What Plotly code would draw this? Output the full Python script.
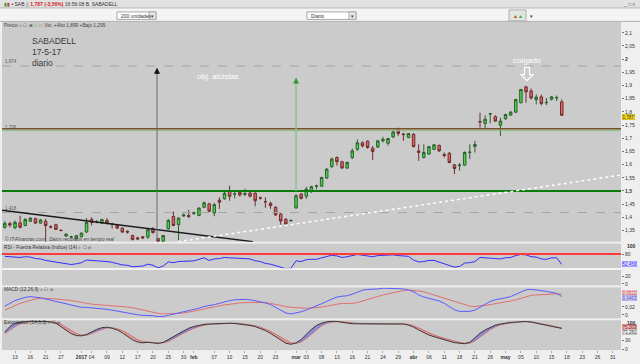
import plotly.graph_objects as go
import pandas as pd

W, H = 640, 364

# ---------------- data ----------------
holidays = ["2016-12-26", "2017-04-14", "2017-04-17", "2017-05-01"]
dates = [d.strftime("%Y-%m-%d") for d in pd.bdate_range("2016-12-09", "2017-05-31")
         if d.strftime("%Y-%m-%d") not in holidays]

opens = [1.362, 1.376, 1.361, 1.379, 1.369, 1.385, 1.395, 1.378, 1.385, 1.364,
         1.372, 1.350, 1.329, 1.325, 1.318, 1.326, 1.344, 1.392, 1.384, 1.378,
         1.388, 1.374, 1.369, 1.359, 1.347, 1.331, 1.322, 1.326, 1.325, 1.356,
         1.319, 1.309, 1.356, 1.403, 1.372, 1.405, 1.407, 1.415, 1.407, 1.438,
         1.451, 1.417, 1.465, 1.470, 1.501, 1.488, 1.495, 1.487, 1.492, 1.491,
         1.474, 1.459, 1.453, 1.438, 1.412, 1.392, 1.387, 1.436, 1.488, 1.480,
         1.497, 1.518, 1.518, 1.549, 1.593, 1.627, 1.611, 1.587, 1.627, 1.658,
         1.683, 1.689, 1.662, 1.667, 1.690, 1.681, 1.705, 1.730, 1.716, 1.703,
         1.715, 1.652, 1.627, 1.640, 1.658, 1.673, 1.638, 1.643, 1.599, 1.596,
         1.598, 1.646, 1.669, 1.763, 1.756, 1.792, 1.782, 1.749, 1.774, 1.788,
         1.799, 1.835, 1.895, 1.879, 1.847, 1.857, 1.835, 1.848, 1.853, 1.838]
highs = [1.385, 1.383, 1.388, 1.406, 1.397, 1.400, 1.399, 1.394, 1.394, 1.370,
         1.376, 1.355, 1.339, 1.330, 1.333, 1.342, 1.397, 1.400, 1.390, 1.394,
         1.397, 1.379, 1.372, 1.362, 1.350, 1.334, 1.326, 1.329, 1.357, 1.363,
         1.322, 1.333, 1.394, 1.422, 1.400, 1.414, 1.428, 1.421, 1.438, 1.460,
         1.455, 1.455, 1.476, 1.497, 1.520, 1.497, 1.499, 1.508, 1.497, 1.495,
         1.478, 1.476, 1.459, 1.442, 1.417, 1.397, 1.392, 1.488, 1.492, 1.516,
         1.520, 1.524, 1.554, 1.586, 1.627, 1.631, 1.614, 1.612, 1.661, 1.696,
         1.688, 1.692, 1.671, 1.694, 1.705, 1.701, 1.728, 1.740, 1.721, 1.720,
         1.719, 1.677, 1.677, 1.671, 1.678, 1.676, 1.646, 1.647, 1.602, 1.606,
         1.650, 1.677, 1.690, 1.797, 1.787, 1.794, 1.787, 1.778, 1.793, 1.803,
         1.850, 1.887, 1.899, 1.889, 1.866, 1.866, 1.853, 1.860, 1.862, 1.847]
lows = [1.357, 1.362, 1.355, 1.358, 1.366, 1.382, 1.374, 1.375, 1.302, 1.358,
        1.352, 1.346, 1.326, 1.322, 1.316, 1.324, 1.342, 1.369, 1.377, 1.374,
        1.372, 1.357, 1.356, 1.341, 1.338, 1.312, 1.314, 1.318, 1.318, 1.338,
        1.305, 1.306, 1.353, 1.366, 1.313, 1.402, 1.397, 1.409, 1.404, 1.435,
        1.420, 1.404, 1.432, 1.467, 1.463, 1.472, 1.478, 1.480, 1.476, 1.442,
        1.467, 1.436, 1.432, 1.405, 1.372, 1.371, 1.383, 1.432, 1.468, 1.470,
        1.493, 1.506, 1.516, 1.546, 1.587, 1.596, 1.584, 1.583, 1.621, 1.652,
        1.665, 1.660, 1.618, 1.663, 1.684, 1.672, 1.700, 1.709, 1.690, 1.700,
        1.665, 1.614, 1.623, 1.637, 1.655, 1.648, 1.627, 1.605, 1.564, 1.577,
        1.595, 1.621, 1.646, 1.740, 1.734, 1.757, 1.762, 1.709, 1.770, 1.785,
        1.795, 1.832, 1.835, 1.847, 1.828, 1.825, 1.826, 1.843, 1.841, 1.785]
closes = [1.377, 1.371, 1.381, 1.362, 1.392, 1.397, 1.378, 1.390, 1.369, 1.363,
          1.354, 1.350, 1.336, 1.326, 1.330, 1.340, 1.381, 1.380, 1.384, 1.392,
          1.378, 1.374, 1.359, 1.344, 1.344, 1.316, 1.318, 1.322, 1.353, 1.342,
          1.309, 1.331, 1.388, 1.369, 1.397, 1.409, 1.403, 1.417, 1.435, 1.455,
          1.423, 1.448, 1.457, 1.491, 1.480, 1.488, 1.485, 1.490, 1.480, 1.463,
          1.473, 1.459, 1.444, 1.409, 1.386, 1.375, 1.388, 1.482, 1.472, 1.507,
          1.516, 1.519, 1.551, 1.583, 1.621, 1.611, 1.587, 1.608, 1.652, 1.683,
          1.671, 1.665, 1.650, 1.690, 1.696, 1.699, 1.724, 1.718, 1.714, 1.718,
          1.668, 1.646, 1.646, 1.668, 1.675, 1.652, 1.635, 1.608, 1.585, 1.598,
          1.646, 1.647, 1.676, 1.762, 1.772, 1.793, 1.765, 1.765, 1.790, 1.799,
          1.847, 1.885, 1.876, 1.853, 1.856, 1.832, 1.836, 1.857, 1.854, 1.787]

rsi = [74, 73, 74, 71, 73, 72, 68, 67, 63, 61, 58, 56, 53, 52, 54, 57, 64, 63, 62, 63,
       60, 58, 54, 51, 50, 46, 47, 48, 53, 50, 43, 48, 59, 57, 60, 61, 61, 62, 66, 70,
       63, 67, 68, 71, 70, 70, 69, 68, 67, 62, 60, 55, 53, 49, 43, 41, 42, 62, 60, 65,
       66, 66, 70, 73, 77, 75, 71, 73, 76, 79, 77, 75, 73, 76, 77, 76, 78, 76, 75, 74,
       64, 59, 60, 63, 63, 58, 55, 50, 45, 47, 56, 57, 60, 71, 71, 69, 68, 67, 70, 71,
       76, 79, 78, 73, 72, 67, 66, 70, 70, 52.456]

macd = [0.022, 0.030, 0.036, 0.040, 0.044, 0.046, 0.045, 0.043, 0.040, 0.037,
        0.034, 0.031, 0.027, 0.024, 0.021, 0.019, 0.019, 0.018, 0.017, 0.016,
        0.014, 0.012, 0.0095, 0.007, 0.005, 0.002, 0.0005, -0.001, -0.001, -0.002,
        -0.004, -0.004, -0.001, 0.002, 0.004, 0.007, 0.010, 0.013, 0.017, 0.021,
        0.023, 0.026, 0.029, 0.033, 0.036, 0.038, 0.039, 0.039, 0.038, 0.036,
        0.033, 0.030, 0.026, 0.019, 0.012, 0.005, 0.0025, 0.005, 0.008, 0.0125,
        0.017, 0.022, 0.028, 0.034, 0.040, 0.045, 0.047, 0.048, 0.052, 0.058,
        0.062, 0.064, 0.064, 0.065, 0.067, 0.067, 0.067, 0.066, 0.065, 0.063,
        0.058, 0.050, 0.045, 0.042, 0.039, 0.035, 0.029, 0.022, 0.013, 0.009,
        0.0085, 0.009, 0.012, 0.020, 0.027, 0.034, 0.038, 0.040, 0.043, 0.046,
        0.052, 0.059, 0.063, 0.064, 0.063, 0.061, 0.059, 0.057, 0.054, 0.0463]
signal = [0.012, 0.018, 0.024, 0.029, 0.033, 0.037, 0.040, 0.042, 0.042, 0.041,
          0.040, 0.039, 0.038, 0.036, 0.034, 0.031, 0.029, 0.027, 0.026, 0.025,
          0.0245, 0.024, 0.0235, 0.022, 0.020, 0.018, 0.015, 0.012, 0.009, 0.006,
          0.004, 0.0025, 0.0025, 0.003, 0.004, 0.005, 0.007, 0.009, 0.012, 0.015,
          0.018, 0.021, 0.023, 0.025, 0.027, 0.029, 0.030, 0.031, 0.031, 0.031,
          0.031, 0.031, 0.029, 0.026, 0.023, 0.021, 0.019, 0.018, 0.017, 0.017,
          0.017, 0.018, 0.020, 0.022, 0.025, 0.027, 0.029, 0.029, 0.029, 0.031,
          0.035, 0.039, 0.042, 0.046, 0.050, 0.053, 0.056, 0.0585, 0.061, 0.0625,
          0.062, 0.060, 0.058, 0.054, 0.051, 0.047, 0.043, 0.039, 0.035, 0.030,
          0.026, 0.022, 0.021, 0.022, 0.024, 0.026, 0.028, 0.030, 0.033, 0.035,
          0.038, 0.042, 0.046, 0.049, 0.050, 0.051, 0.052, 0.053, 0.053, 0.0522]

stoch_k = [60, 80, 92, 96, 98, 99, 98, 97, 97, 97, 92, 80, 66, 55, 48, 47, 52, 62, 70, 76,
           78, 74, 68, 58, 45, 33, 25, 22, 24, 23, 20, 24, 34, 45, 56, 66, 74, 80, 85, 88,
           89, 90, 91, 92, 92, 91, 89, 87, 84, 80, 74, 66, 56, 44, 32, 21, 17, 22, 34, 52,
           70, 84, 92, 97, 99, 98, 95, 92, 90, 90, 90, 89, 88, 89, 89, 90, 90, 90, 89, 85,
           78, 68, 58, 50, 44, 38, 33, 28, 23, 20, 19, 24, 40, 56, 68, 78, 85, 89, 93, 95,
           96, 98, 98, 96, 92, 88, 85, 81, 77, 73.281]
stoch_d = [55, 68, 80, 90, 95, 97, 98, 98, 97, 97, 95, 88, 77, 65, 55, 50, 49, 55, 63, 70,
           75, 76, 72, 66, 56, 44, 33, 27, 24, 23, 22, 22, 27, 36, 47, 57, 66, 74, 80, 85,
           88, 89, 90, 91, 92, 92, 91, 89, 86, 83, 78, 71, 63, 53, 42, 30, 22, 20, 25, 38,
           54, 70, 83, 92, 96, 98, 97, 95, 92, 91, 90, 90, 89, 89, 89, 89, 90, 90, 90, 88,
           83, 75, 66, 57, 50, 44, 38, 33, 28, 24, 21, 21, 29, 43, 57, 69, 79, 86, 90, 93,
           95, 97, 98, 97, 94, 90, 87, 83, 79, 75.203]

price_ticks = [1.35, 1.4, 1.45, 1.5, 1.55, 1.6, 1.65, 1.7, 1.75, 1.8, 1.85, 1.9, 1.95, 2.0, 2.05, 2.1]
price_labels = ["1,35", "1,4", "1,45", "<b>1,5</b>", "1,55", "1,6", "1,65", "1,7", "1,75", "1,8",
                "1,85", "1,9", "1,95", "<b>2</b>", "2,05", "2,1"]

tick_dates = ["2016-12-13", "2016-12-16", "2016-12-21", "2016-12-27", "2017-01-02", "2017-01-04",
              "2017-01-09", "2017-01-12", "2017-01-17", "2017-01-20", "2017-01-25", "2017-01-30",
              "2017-02-01", "2017-02-07", "2017-02-10", "2017-02-15", "2017-02-20", "2017-02-23",
              "2017-03-01", "2017-03-03", "2017-03-08", "2017-03-13", "2017-03-16", "2017-03-21",
              "2017-03-24", "2017-03-29", "2017-04-03", "2017-04-06", "2017-04-11", "2017-04-18",
              "2017-04-21", "2017-04-26", "2017-05-02", "2017-05-05", "2017-05-10", "2017-05-15",
              "2017-05-18", "2017-05-23", "2017-05-26", "2017-05-31"]
tick_labels = ["13", "16", "21", "27", "<b>2017</b>", "04", "09", "12", "17", "20", "25", "30",
               "<b>feb</b>", "07", "10", "15", "20", "23", "<b>mar</b>", "03", "08", "13", "16",
               "21", "24", "29", "<b>abr</b>", "06", "11", "18", "21", "26", "<b>may</b>", "05",
               "10", "15", "18", "23", "26", "31"]

# reference levels
level_max = 1.974
level_res = 1.736
level_res2 = 1.729
level_sup = 1.5
level_min = 1.418

# ---------------- helpers ----------------
n = len(closes)
xs = list(range(n))
tick_pos = [dates.index(d) for d in tick_dates]


def px_to_i(px):
    return (px - 4.78) / 5.11


def px_to_price(py):
    return 2.1 - (py - 33) / 265.0


def P(x, y):
    return x / W, 1 - y / H


def ydom(top, bottom):
    return [1 - bottom / H, 1 - top / H]


XR = [px_to_i(2), px_to_i(621)]
XDOM = [2 / W, 621 / W]
FONT = "Liberation Sans, Arial, sans-serif"

fig = go.Figure()

fig.add_trace(go.Candlestick(
    x=xs, open=opens, high=highs, low=lows, close=closes,
    increasing=dict(fillcolor="#45d545", line=dict(color="#2c5f2c", width=1)),
    decreasing=dict(fillcolor="#e36363", line=dict(color="#6e2e2e", width=1)),
    whiskerwidth=0, xaxis="x", yaxis="y", showlegend=False, hoverinfo="skip"))

# RSI
fig.add_trace(go.Scatter(x=xs, y=rsi, mode="lines", line=dict(color="#2f2fff", width=1),
                         xaxis="x2", yaxis="y2", showlegend=False, hoverinfo="skip"))
# MACD
fig.add_trace(go.Scatter(x=xs, y=signal, mode="lines", line=dict(color="#e07070", width=1),
                         xaxis="x3", yaxis="y3", showlegend=False, hoverinfo="skip"))
fig.add_trace(go.Scatter(x=xs, y=macd, mode="lines", line=dict(color="#5a5aff", width=1),
                         xaxis="x3", yaxis="y3", showlegend=False, hoverinfo="skip"))

# Stochastic band
rx, ry, bx, by = [], [], [], []
for i in range(n - 1):
    pxs = [i, i + 1, i + 1, i, i, None]
    pys = [stoch_k[i], stoch_k[i + 1], stoch_d[i + 1], stoch_d[i], stoch_k[i], None]
    if stoch_k[i] + stoch_k[i + 1] < stoch_d[i] + stoch_d[i + 1]:
        rx += pxs; ry += pys
    else:
        bx += pxs; by += pys
fig.add_trace(go.Scatter(x=rx, y=ry, mode="lines", fill="toself", fillcolor="rgba(232,150,150,0.9)",
                         line=dict(width=0), xaxis="x4", yaxis="y4", showlegend=False, hoverinfo="skip"))
fig.add_trace(go.Scatter(x=bx, y=by, mode="lines", fill="toself", fillcolor="rgba(130,130,225,0.9)",
                         line=dict(width=0), xaxis="x4", yaxis="y4", showlegend=False, hoverinfo="skip"))
fig.add_trace(go.Scatter(x=xs, y=stoch_d, mode="lines", line=dict(color="#c87070", width=1),
                         xaxis="x4", yaxis="y4", showlegend=False, hoverinfo="skip"))
fig.add_trace(go.Scatter(x=xs, y=stoch_k, mode="lines", line=dict(color="#383838", width=1),
                         xaxis="x4", yaxis="y4", showlegend=False, hoverinfo="skip"))

tickfont = dict(family=FONT, size=5, color="#333333")
common_x = dict(domain=XDOM, range=XR, showgrid=False, zeroline=False, showline=False, fixedrange=True)
common_y = dict(showgrid=False, zeroline=False, showline=False, side="right", ticks="outside",
                ticklen=2, tickcolor="#777777", tickfont=tickfont, fixedrange=True)

shapes = []
# header bars
shapes.append(dict(type="rect", xref="paper", yref="paper", x0=0, x1=1, y0=P(0, 8)[1], y1=1,
                   fillcolor="#e2e2e2", line=dict(width=0), layer="below"))
shapes.append(dict(type="rect", xref="paper", yref="paper", x0=0, x1=1, y0=P(0, 21.5)[1], y1=P(0, 8)[1],
                   fillcolor="#f4f4f4", line=dict(width=0), layer="below"))
shapes.append(dict(type="line", xref="paper", yref="paper", x0=0, x1=1, y0=P(0, 8)[1], y1=P(0, 8)[1],
                   line=dict(color="#b8b8b8", width=1)))
shapes.append(dict(type="line", xref="paper", yref="paper", x0=0, x1=1, y0=P(0, 21.5)[1], y1=P(0, 21.5)[1],
                   line=dict(color="#b0b0b0", width=1)))
# dropdowns
for (x0, x1) in [(117, 156), (307, 356)]:
    shapes.append(dict(type="rect", xref="paper", yref="paper", x0=P(x0, 0)[0], x1=P(x1, 0)[0],
                       y0=P(0, 19.5)[1], y1=P(0, 12)[1], fillcolor="#ffffff",
                       line=dict(color="#a8a8a8", width=1)))
    shapes.append(dict(type="rect", xref="paper", yref="paper", x0=P(x1 - 7, 0)[0], x1=P(x1, 0)[0],
                       y0=P(0, 19.5)[1], y1=P(0, 12)[1], fillcolor="#e8e8e8",
                       line=dict(color="#a8a8a8", width=1)))
shapes.append(dict(type="rect", xref="paper", yref="paper", x0=P(509, 0)[0], x1=P(526, 0)[0],
                   y0=P(0, 21)[1], y1=P(0, 10)[1], fillcolor="#dfe8df",
                   line=dict(color="#b0b0b0", width=1)))

# horizontal levels
shapes.append(dict(type="line", xref="x", yref="y", x0=XR[0], x1=XR[1], y0=level_max, y1=level_max,
                   line=dict(color="#a4a4a4", width=1, dash="dash")))
shapes.append(dict(type="line", xref="x", yref="y", x0=XR[0], x1=XR[1], y0=level_min, y1=level_min,
                   line=dict(color="#a4a4a4", width=1, dash="dash")))
shapes.append(dict(type="line", xref="x", yref="y", x0=XR[0], x1=XR[1], y0=level_res2, y1=level_res2,
                   line=dict(color="#86c486", width=1)))
shapes.append(dict(type="line", xref="x", yref="y", x0=XR[0], x1=XR[1], y0=level_res, y1=level_res,
                   line=dict(color="#7a5128", width=1.5)))
shapes.append(dict(type="line", xref="x", yref="y", x0=XR[0], x1=XR[1], y0=level_sup, y1=level_sup,
                   line=dict(color="#0a7a0a", width=2)))
# trend lines
shapes.append(dict(type="line", xref="x", yref="y", x0=px_to_i(2), y0=px_to_price(211.5),
                   x1=px_to_i(253), y1=px_to_price(243), line=dict(color="#1a1a1a", width=1.5)))
shapes.append(dict(type="line", xref="x", yref="y", x0=px_to_i(178), y0=px_to_price(243),
                   x1=px_to_i(621), y1=px_to_price(176), line=dict(color="#ffffff", width=1.5, dash="dot")))
# vertical objective lines
shapes.append(dict(type="line", xref="x", yref="y", x0=px_to_i(157), x1=px_to_i(157),
                   y0=px_to_price(243), y1=px_to_price(70), line=dict(color="#6a6a6a", width=1)))
shapes.append(dict(type="line", xref="x", yref="y", x0=57, x1=57,
                   y0=level_sup, y1=px_to_price(80), line=dict(color="#8dbf8d", width=1.5)))
# RSI levels
shapes.append(dict(type="line", xref="x2", yref="y2", x0=XR[0], x1=XR[1], y0=80, y1=80,
                   line=dict(color="#ff3a3a", width=2)))
shapes.append(dict(type="line", xref="x2", yref="y2", x0=XR[0], x1=XR[1], y0=40, y1=40,
                   line=dict(color="#ffffff", width=1.5)))
# hollow down arrow "colgado"
pts = [(524.5, 67.5), (529.5, 67.5), (529.5, 75), (533, 75), (527, 81), (521, 75), (524.5, 75)]
path = "M " + " L ".join("%.5f,%.5f" % P(a, b) for a, b in pts) + " Z"
shapes.append(dict(type="path", xref="paper", yref="paper", path=path,
                   line=dict(color="#ffffff", width=1.2), fillcolor="rgba(0,0,0,0)"))

ann = []


def txt(x, y, s, size=5.5, color="#333333", xanchor="left", yanchor="middle", **kw):
    ax, ay = P(x, y)
    ann.append(dict(x=ax, y=ay, xref="paper", yref="paper", text=s, showarrow=False,
                    xanchor=xanchor, yanchor=yanchor,
                    font=dict(family=FONT, size=size, color=color), **kw))


# title bar / toolbar
txt(2, 4, "<span style='color:#3a9a3a'>▮</span><span style='color:#cc3333'>▮</span> • SAB ▯ "
          "<b><span style='color:#d02020'>1,787 (-3,56%)</span></b> 16:56:08 B. SABADELL", size=5)
txt(638, 4, "_ □ x", size=5, color="#666666", xanchor="right")
txt(119, 16, "200 unidades", size=5)
txt(152.5, 16, "▾", size=5, xanchor="center")
txt(309, 16, "Diario", size=5)
txt(352.5, 16, "▾", size=5, xanchor="center")
txt(517.5, 16, "<span style='color:#cc3333'>▲</span><span style='color:#33aa33'>▲</span>", size=5,
    xanchor="center")
txt(528, 16, "▾", size=5)
txt(2, 26, "Precio ⌕ ▢ ▣ <span style='color:#3aaa3a'>▷</span> <span style='color:#cc3333'>▷</span>"
           " Vis: +Alto 1,899 +Bajo 1,295", size=4.8, color="#444444")
# chart titles
txt(30, 41, "SABADELL", size=8.5, color="#3a3a3a")
txt(30, 52, "17-5-17", size=8.5, color="#3a3a3a")
txt(30, 63, "diario", size=8.5, color="#3a3a3a")
txt(218, 77, "obj. alcistas", size=8, color="#ffffff", xanchor="center")
txt(527, 61, "colgado", size=8, color="#ffffff", xanchor="center")
txt(3, 62, "1,974", size=4.5, color="#555555")
txt(3, 128, "1,736", size=4.5, color="#555555")
txt(3, 210, "1,418", size=4.5, color="#555555")
txt(3, 240, "<i>© IT-Finanzas.com . Datos recibidos en tiempo real</i>", size=4.8, color="#444444")
# panel headers
txt(2, 248.5, "RSI - Fuerza Relativa (Indice) (14) ⌕ ▢ ⊗", size=4.8, color="#333333")
txt(2, 291.5, "MACD (12,26,9) ⌕ ▢ ⊗", size=4.8, color="#333333")
txt(2, 324.5, "Estocástico (14,6,3) ⌕ ▢ ⊗", size=4.8, color="#333333")

# arrowheads of objective lines
ann.append(dict(x=px_to_i(157), y=px_to_price(68), xref="x", yref="y", ax=px_to_i(157),
                ay=px_to_price(76), axref="x", ayref="y", text="", showarrow=True,
                arrowhead=2, arrowsize=1, arrowwidth=1.2, arrowcolor="#111111"))
ann.append(dict(x=57, y=px_to_price(78), xref="x", yref="y", ax=57, ay=px_to_price(86),
                axref="x", ayref="y", text="", showarrow=True,
                arrowhead=2, arrowsize=1, arrowwidth=1.2, arrowcolor="#3a9a3a"))


# right-axis value boxes
def box(yref, yv, s, bg, fg, border, size=4.5):
    ann.append(dict(x=622 / W, y=yv, xref="paper", yref=yref, text=s, showarrow=False,
                    xanchor="left", yanchor="middle", bgcolor=bg, bordercolor=border, borderwidth=0.5,
                    borderpad=0, font=dict(family=FONT, size=size, color=fg)))


box("y", 1.780, "1,787", "#f2d21b", "#333333", "#c8a800")
box("y2", rsi[-1], "52,456", "#dcdcff", "#2f2fff", "#6a6aff")
box("y3", 0.0545, "0,0522", "#f6dada", "#c04040", "#e09090")
box("y3", 0.0425, "0,0463", "#dadaf6", "#4040c0", "#9090e0")
box("y4", 79, "75,203", "#f0b0b0", "#802020", "#d07070")
box("y4", 61, "73,281", "#f4f4f4", "#333333", "#999999")

fig.update_layout(
    width=W, height=H, autosize=False,
    margin=dict(l=0, r=0, t=0, b=0, pad=0),
    paper_bgcolor="#efefef", plot_bgcolor="#cbcbcb",
    showlegend=False, hovermode=False,
    xaxis=dict(**common_x, anchor="y", showticklabels=False, ticks="", rangeslider=dict(visible=False)),
    xaxis2=dict(**common_x, anchor="y2", showticklabels=False, ticks=""),
    xaxis3=dict(**common_x, anchor="y3", showticklabels=False, ticks=""),
    xaxis4=dict(**common_x, anchor="y4", tickvals=tick_pos, ticktext=tick_labels, ticks="outside",
                ticklen=2, tickcolor="#aaaaaa", tickfont=tickfont, tickangle=0),
    yaxis=dict(**common_y, domain=ydom(22, 243), range=[px_to_price(243), px_to_price(22)],
               anchor="x", tickvals=price_ticks, ticktext=price_labels),
    yaxis2=dict(**common_y, domain=ydom(245, 287), range=[-4, 108], anchor="x2",
                tickvals=[0, 20, 80], ticktext=["0", "20", "80"]),
    yaxis3=dict(**common_y, domain=ydom(289, 320), range=[-0.00825, 0.069], anchor="x3",
                tickvals=[0, 0.02], ticktext=["0", "0,02"]),
    yaxis4=dict(**common_y, domain=ydom(322, 352), range=[-3.5, 102.5], anchor="x4",
                tickvals=[0, 30], ticktext=["0", "30"]),
    shapes=shapes, annotations=ann,
)

# top labels of the bounded panels (100) placed just under the panel tops
txt(625, 247.5, "<b>100</b>", size=5)
txt(625, 324.5, "<b>100</b>", size=5)
fig.update_layout(annotations=ann)

fig.write_html("out.html")
